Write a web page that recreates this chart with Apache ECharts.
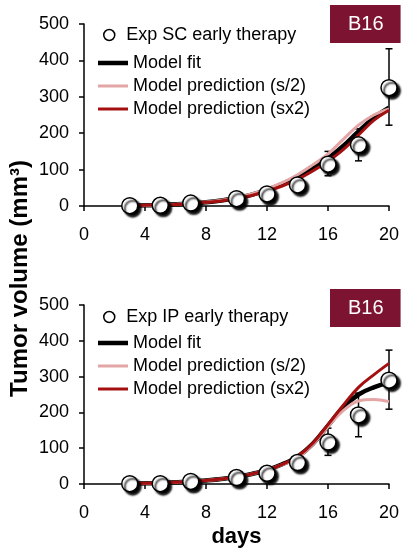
<!DOCTYPE html>
<html>
<head>
<meta charset="utf-8">
<script src="https://cdn.jsdelivr.net/npm/echarts@6/dist/echarts.min.js"></script>
<style>
html,body{margin:0;padding:0;background:#fff;}
#c{width:406px;height:553px;}
</style>
</head>
<body>
<div id="c"></div>
<script>
// ---- data ----
const days = [3, 5, 7, 10, 12, 14, 16, 18, 20];
const scVolume = [1, 2, 8, 20, 33, 58, 115, 168, 325];
const ipVolume = [1, 1, 7, 18, 30, 60, 117, 193, 290];

const errDays = [16, 18, 20];
const scErrLow = [83, 124, 222];
const scErrHigh = [150, 212, 432];
const ipErrLow = [80, 132, 209];
const ipErrHigh = [156, 254, 374];

const curveDays = [3, 4, 5, 6, 7, 8, 9, 10, 11, 12, 13, 14, 15, 16, 17, 18, 19, 20];
const scFit  = [1, 2, 3, 5, 7, 10, 15, 22, 31, 44, 60, 79, 103, 131, 165, 205, 242, 270];
const scHalf = [1, 2, 3, 5, 8, 11, 16, 23, 33, 47, 64, 86, 113, 143, 183, 222, 250, 267];
const scDbl  = [1, 2, 3, 4, 7, 10, 14, 21, 29, 41, 55, 73, 96, 123, 155, 195, 235, 263];
const ipFit  = [1, 2, 3, 5, 7, 10, 14, 20, 28, 39, 55, 76, 112, 163, 214, 250, 270, 283];
const ipHalf = [1, 2, 3, 5, 7, 10, 14, 20, 28, 39, 54, 73, 110, 160, 205, 232, 236, 230];
const ipDbl  = [1, 2, 3, 5, 7, 10, 14, 20, 28, 39, 55, 77, 114, 166, 220, 270, 305, 337];

const xTicks = [0, 4, 8, 12, 16, 20];
const yTicks = [0, 100, 200, 300, 400, 500];

const scName = 'Exp SC early therapy';
const ipName = 'Exp IP early therapy';
const lineNames = ['Model fit', 'Model prediction (s/2)', 'Model prediction (sx2)'];
const panelLabel = 'B16';
const yTitle = 'Tumor volume (mm³)';
const xTitle = 'days';

// ---- helpers ----
const FONT = 'Liberation Sans, Arial, sans-serif';
const zip = (a, b) => a.map((v, i) => [v, b[i]]);
const zip3 = (a, b, c) => a.map((v, i) => [v, b[i], c[i]]);

function xAxis(idx, withName) {
  const ax = {
    type: 'value', gridIndex: idx, min: xTicks[0], max: xTicks[xTicks.length - 1], interval: xTicks[1] - xTicks[0],
    axisLine: { lineStyle: { color: '#000', width: 1.5 } },
    axisTick: { show: true, length: 5, lineStyle: { color: '#000', width: 1.5 } },
    axisLabel: { color: '#000', fontSize: 18, fontFamily: FONT, margin: 20 },
    splitLine: { show: false }
  };
  if (withName) {
    ax.name = xTitle;
    ax.nameLocation = 'middle';
    ax.nameGap = 42;
    ax.nameTextStyle = { color: '#000', fontSize: 22, fontWeight: 'bold', fontFamily: FONT };
  }
  return ax;
}
function yAxis(idx) {
  return {
    type: 'value', gridIndex: idx, min: yTicks[0], max: yTicks[yTicks.length - 1], interval: yTicks[1] - yTicks[0],
    axisLine: { show: true, lineStyle: { color: '#000', width: 1.5 } },
    axisTick: { show: true, length: 5, lineStyle: { color: '#000', width: 1.5 } },
    axisLabel: { color: '#000', fontSize: 18, fontFamily: FONT, margin: 15 },
    splitLine: { show: false }
  };
}

const lineStyles = [
  { color: '#000000', width: 4.5 },
  { color: '#e3a5a5', width: 3 },
  { color: '#a3100f', width: 3 }
];
const lineIcons = ['path://M0 0H40V6H0Z', 'path://M0 0H40V4H0Z', 'path://M0 0H40V4H0Z'];

function lineSeries(idx, name, xs, ys, st) {
  return {
    type: 'line', name: name, xAxisIndex: idx, yAxisIndex: idx,
    data: zip(xs, ys), smooth: 0.4, symbol: 'none', showSymbol: false,
    lineStyle: { color: st.color, width: st.width },
    itemStyle: { color: st.color },
    z: 3, silent: true
  };
}
function scatterSeries(idx, name, xs, ys) {
  return {
    type: 'scatter', name: name, xAxisIndex: idx, yAxisIndex: idx,
    data: zip(xs, ys), symbol: 'circle', symbolSize: 16,
    itemStyle: { color: '#fff', opacity: 1, borderColor: '#000', borderWidth: 1.5,
      shadowColor: 'rgba(0,0,0,1)', shadowBlur: 2, shadowOffsetX: 3, shadowOffsetY: 3 },
    z: 5, silent: true
  };
}
function errSeries(idx, xs, lo, hi) {
  return {
    type: 'custom', xAxisIndex: idx, yAxisIndex: idx, z: 2, silent: true,
    data: zip3(xs, lo, hi),
    renderItem: function (params, api) {
      const p1 = api.coord([api.value(0), api.value(1)]);
      const p2 = api.coord([api.value(0), api.value(2)]);
      const hw = 3.5;
      const st = { stroke: '#000', lineWidth: 1.5 };
      return { type: 'group', children: [
        { type: 'line', shape: { x1: p1[0], y1: p1[1], x2: p2[0], y2: p2[1] }, style: st },
        { type: 'line', shape: { x1: p1[0] - hw, y1: p1[1], x2: p1[0] + hw, y2: p1[1] }, style: st },
        { type: 'line', shape: { x1: p2[0] - hw, y1: p2[1], x2: p2[0] + hw, y2: p2[1] }, style: st }
      ] };
    }
  };
}

const grids = [
  { left: 84, right: 17, top: 24, height: 182 },
  { left: 84, right: 17, top: 305, height: 179 }
];

function legends(topScatter, topLines, scatterName) {
  return [
    {
      left: 98, top: topScatter, orient: 'vertical', itemWidth: 24, itemHeight: 11,
      data: [{ name: scatterName, icon: 'circle', itemStyle: { color: '#fff', opacity: 1, borderColor: '#000', borderWidth: 1.5, shadowColor: 'rgba(0,0,0,0)', shadowBlur: 0, shadowOffsetX: 0, shadowOffsetY: 0 } }],
      textStyle: { color: '#000', fontSize: 18, fontFamily: FONT },
      selectedMode: false
    },
    {
      left: 93, top: topLines, orient: 'vertical', itemWidth: 30, itemHeight: 6, itemGap: 5,
      data: lineNames.map((n, i) => ({ name: n, icon: lineIcons[i] })),
      textStyle: { color: '#000', fontSize: 18, fontFamily: FONT },
      selectedMode: false
    }
  ];
}

const chart = echarts.init(document.getElementById('c'), null, { renderer: 'canvas' });
chart.setOption({
  animation: false,
  backgroundColor: '#fff',
  title: [
    { text: panelLabel, left: 330, top: 5, backgroundColor: '#7c1431', padding: [9, 17, 9, 18],
      textStyle: { color: '#fff', fontSize: 20, fontWeight: 'normal', fontFamily: FONT } },
    { text: panelLabel, left: 330, top: 289, backgroundColor: '#7c1431', padding: [9, 17, 9, 18],
      textStyle: { color: '#fff', fontSize: 20, fontWeight: 'normal', fontFamily: FONT } }
  ],
  legend: legends(21, 49, scName).concat(legends(303, 329, ipName)),
  grid: grids,
  xAxis: [xAxis(0, false), xAxis(1, true)],
  yAxis: [yAxis(0), yAxis(1)],
  graphic: [
    { type: 'text', left: 8, top: 160, rotation: Math.PI / 2,
      style: { text: yTitle, fill: '#000', font: 'bold 24px ' + FONT } }
  ],
  series: [
    errSeries(0, errDays, scErrLow, scErrHigh),
    lineSeries(0, lineNames[0], curveDays, scFit, lineStyles[0]),
    lineSeries(0, lineNames[1], curveDays, scHalf, lineStyles[1]),
    lineSeries(0, lineNames[2], curveDays, scDbl, lineStyles[2]),
    scatterSeries(0, scName, days, scVolume),
    errSeries(1, errDays, ipErrLow, ipErrHigh),
    lineSeries(1, lineNames[0], curveDays, ipFit, lineStyles[0]),
    lineSeries(1, lineNames[1], curveDays, ipHalf, lineStyles[1]),
    lineSeries(1, lineNames[2], curveDays, ipDbl, lineStyles[2]),
    scatterSeries(1, ipName, days, ipVolume)
  ]
});
</script>
</body>
</html>
